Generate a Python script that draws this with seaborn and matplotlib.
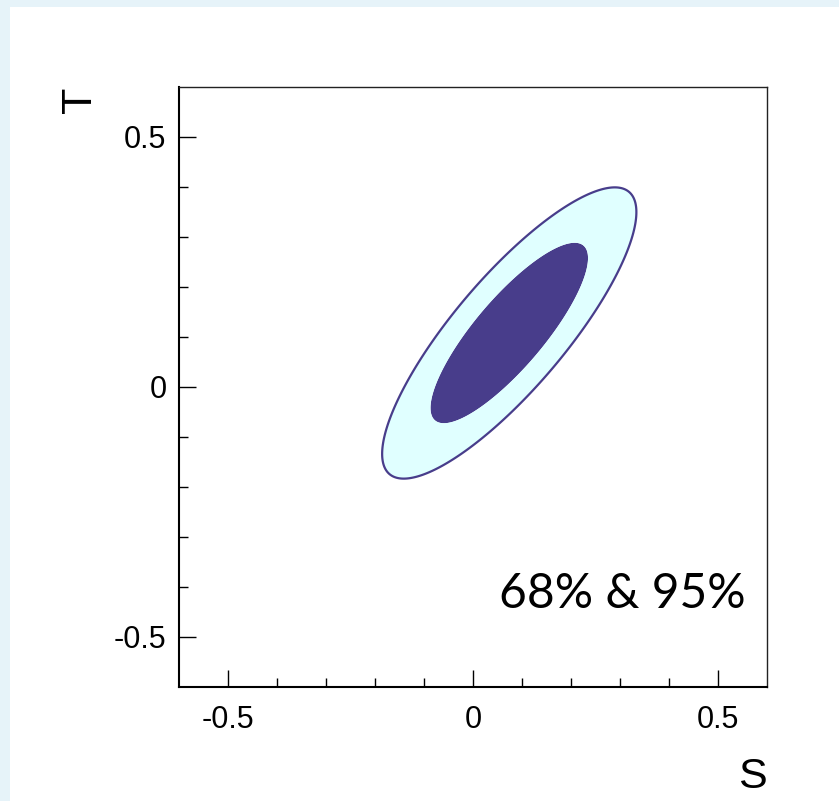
import numpy as np
import pandas as pd
import seaborn as sns
import matplotlib
matplotlib.use("Agg")
import matplotlib.pyplot as plt
from matplotlib.ticker import FixedLocator
from matplotlib.patches import Rectangle

# ---- data (fit result) ----
center_S = 0.074
center_T = 0.108
sigma_S = 0.106
sigma_T = 0.119
rho_ST = 0.83
cl_labels = ["68%", "95%"]
delta_chi2 = [2.30, 5.99]          # 2-D 68% and 95% CL levels
fill_colors = ["#483d8b", "#e0ffff"]
x_major = [-0.5, 0.0, 0.5]
x_major_labels = ["-0.5", "0", "0.5"]
y_major = [-0.5, 0.0, 0.5]
y_major_labels = ["-0.5", "0", "0.5"]
minor_ticks = [-0.4, -0.3, -0.2, -0.1, 0.1, 0.2, 0.3, 0.4]
lims = (-0.6, 0.6)

sns.set_theme(style="white")
plt.rcParams["font.family"] = ["Liberation Sans", "DejaVu Sans"]
plt.rcParams["text.color"] = "black"
plt.rcParams["axes.labelcolor"] = "black"

fig = plt.figure(figsize=(8.39, 8.01), dpi=100)
fig.patch.set_facecolor("#e6f3f9")
fig.add_artist(Rectangle((10 / 839, 0), 1, 1 - 7 / 801, transform=fig.transFigure,
                         facecolor="white", edgecolor="none", zorder=0))

ax = fig.add_axes([179 / 839, 114 / 801, 588 / 839, 600 / 801])
ax.set_facecolor("white")

# chi2 surface from the fitted Gaussian parameters
s = np.linspace(lims[0], lims[1], 801)
t = np.linspace(lims[0], lims[1], 801)
SS, TT = np.meshgrid(s, t)
dS = (SS - center_S) / sigma_S
dT = (TT - center_T) / sigma_T
chi2 = (dS ** 2 - 2 * rho_ST * dS * dT + dT ** 2) / (1 - rho_ST ** 2)

ax.contourf(SS, TT, chi2, levels=[0] + delta_chi2, colors=fill_colors, antialiased=True)
ax.contour(SS, TT, chi2, levels=[delta_chi2[1]], colors=[fill_colors[0]], linewidths=1.6)

ax.set_xlim(*lims)
ax.set_ylim(*lims)

ax.xaxis.set_major_locator(FixedLocator(x_major))
ax.set_xticklabels(x_major_labels)
ax.yaxis.set_major_locator(FixedLocator(y_major))
ax.set_yticklabels(y_major_labels)
ax.xaxis.set_minor_locator(FixedLocator(minor_ticks))
ax.yaxis.set_minor_locator(FixedLocator(minor_ticks))

ax.tick_params(which="both", direction="in", bottom=True, left=True, top=False, right=False,
               colors="black", width=1.0)
ax.tick_params(which="major", length=12.5, labelsize=22, pad=13)
ax.tick_params(which="minor", length=6.5)
ax.tick_params(axis="y", which="major", pad=9)

for side in ["left", "bottom"]:
    ax.spines[side].set_linewidth(1.5)
    ax.spines[side].set_color("black")
for side in ["top", "right"]:
    ax.spines[side].set_linewidth(1.0)
    ax.spines[side].set_color("#222222")
    ax.spines[side].set_visible(True)

ax.set_xlabel("S", fontsize=31, loc="right", color="black")
ax.xaxis.set_label_coords(1.0, -0.116)
ax.set_ylabel("T", fontsize=31, loc="top", rotation=90, color="black")
ax.yaxis.set_label_coords(-0.134, 1.0)

ax.text(0.557, -0.443, f"{cl_labels[0]} & {cl_labels[1]}", ha="right", va="baseline",
        fontsize=34.5, family=["Lato", "DejaVu Sans"], color="black")

fig.savefig("out.png", dpi=100)
